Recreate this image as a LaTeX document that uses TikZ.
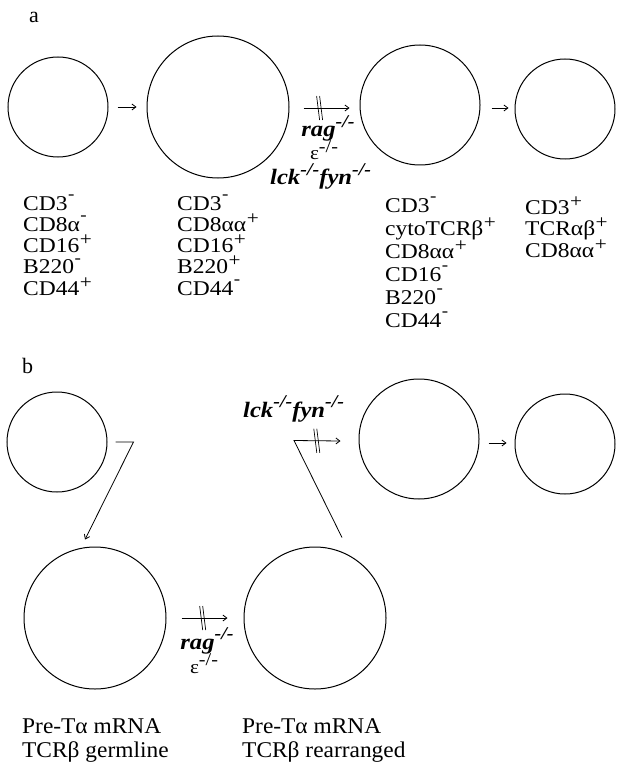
\documentclass[tikz,border=0pt]{standalone}
\usepackage{fontspec}
\setmainfont{Liberation Serif}
\newfontfamily\labfont{Liberation Serif}[FakeStretch=1.12]
\newfontfamily\capfont{Liberation Serif}[FakeStretch=1.04]
\usetikzlibrary{arrows.meta}
% raised signs for surface markers and knockouts
\newcommand\supp{\kern0.5pt\raisebox{0.33em}{\fontsize{19}{19}\selectfont +}}
\newcommand\supm{\kern0.5pt\raisebox{0.50em}{\fontsize{17}{17}\selectfont -}}
\newcommand\supko{\raisebox{0.42em}{\fontsize{18}{18}\selectfont -/-}}
\begin{document}
\begin{tikzpicture}[x=1pt,y=-1pt,
  cell/.style={circle,draw,line width=1pt,inner sep=0pt,minimum size=#1},
  arr/.style={-{Straight Barb[length=4pt,width=6pt]},line width=0.8pt},
  lab/.style={anchor=base west,inner sep=0pt,font=\labfont\fontsize{21}{21}\selectfont},
  capl/.style={anchor=base west,inner sep=0pt,font=\capfont\fontsize{22.5}{22.5}\selectfont},
  gene/.style={anchor=base,inner sep=0pt,font=\labfont\fontsize{22}{22}\selectfont\bfseries\itshape},
  epsl/.style={anchor=base,inner sep=0pt,font=\labfont\fontsize{19}{19}\selectfont},
  panel/.style={anchor=base west,inner sep=0pt,font=\fontsize{22}{22}\selectfont},
  bars/.pic={\draw[line width=0.7pt] (-3,-12) -- (0,12) (0,-12) -- (3,12);}]
\useasboundingbox (0,0) rectangle (616,762);

% ---------------- panel a ----------------
\node[panel] (pa) at (29,23) {a};
\node[cell=100pt] (c1) at (58,107) {};
\node[cell=142pt] (c2) at (218,107) {};
\node[cell=120pt] (c3) at (420,105) {};
\node[cell=100pt] (c4) at (565,109) {};

\draw[arr,shorten <=9pt,shorten >=10pt] (c1) -- (c2);
\draw[arr,shorten <=14pt,shorten >=10pt] ([yshift=-1pt]c2.east) -- coordinate[pos=0.43] (ma) ([yshift=-1pt]c2.east -| c3.west);
\pic at (ma) {bars};
\draw[arr,shorten <=11pt,shorten >=6pt] ([yshift=-3pt]c3.east) -- ([yshift=-3pt]c3.east -| c4.west);

\node[gene] (ga1) at (328,137) {rag\supko};
\node[epsl] (ga2) at (324,160) {ε\supko};
\node[gene,anchor=base west] (ga3) at (270,185) {lck\supko fyn\supko};

\foreach \t [count=\i] in {CD3\supm, CD8α\supm, CD16\supp, B220\supm, CD44\supp}
  \node[lab] (la\i) at (23,{210+21.3*(\i-1)}) {\t};
\foreach \t [count=\i] in {CD3\supm, CD8αα\supp, CD16\supp, B220\supp, CD44\supm}
  \node[lab] (lb\i) at (177,{210+21.3*(\i-1)}) {\t};
\foreach \t [count=\i] in {CD3\supm, cytoTCRβ\supp, CD8αα\supp, CD16\supm, B220\supm, CD44\supm}
  \node[lab] (lc\i) at (385,{212+23*(\i-1)}) {\t};
\foreach \t [count=\i] in {CD3\supp, TCRαβ\supp, CD8αα\supp}
  \node[lab] (ld\i) at (525,{214+21.5*(\i-1)}) {\t};

% ---------------- panel b ----------------
\node[panel] (pb) at (22,373) {b};
\node[cell=100pt] (b1) at (57,442) {};
\node[cell=120pt] (b3) at (419,439) {};
\node[cell=100pt] (b4) at (565,444) {};
\node[cell=142pt] (b5) at (95,618) {};
\node[cell=142pt] (b6) at (315,618) {};

\draw[arr] ([xshift=8pt]b1.east) -- ++(18,0) -- ([xshift=-10pt,yshift=7pt]b5.north);
\draw[arr,shorten <=15pt,shorten >=16pt] (b5) -- coordinate[pos=0.47] (mb) (b6);
\pic at (mb) {bars};
\draw[arr] ([xshift=27pt,yshift=9pt]b6.north) -- ++(-48,-97)
  -- coordinate[pos=0.49] (mc) ([xshift=-18pt,yshift=-2pt]b3.west);
\pic at (mc) {bars};
\draw[arr,shorten <=9pt,shorten >=8pt] ([yshift=-4pt]b3.east) -- ([yshift=-4pt]b3.east -| b4.west);

\node[gene,anchor=base west] (gb3) at (243,417) {lck\supko fyn\supko};
\node[gene] (gb1) at (207,649) {rag\supko};
\node[epsl] (gb2) at (204,673) {ε\supko};

\node[capl] (t1) at (22,733) {Pre-Tα mRNA};
\node[capl] (t2) at (22,757) {TCRβ germline};
\node[capl] (t3) at (242,733) {Pre-Tα mRNA};
\node[capl] (t4) at (242,757) {TCRβ rearranged};
\end{tikzpicture}
\end{document}
